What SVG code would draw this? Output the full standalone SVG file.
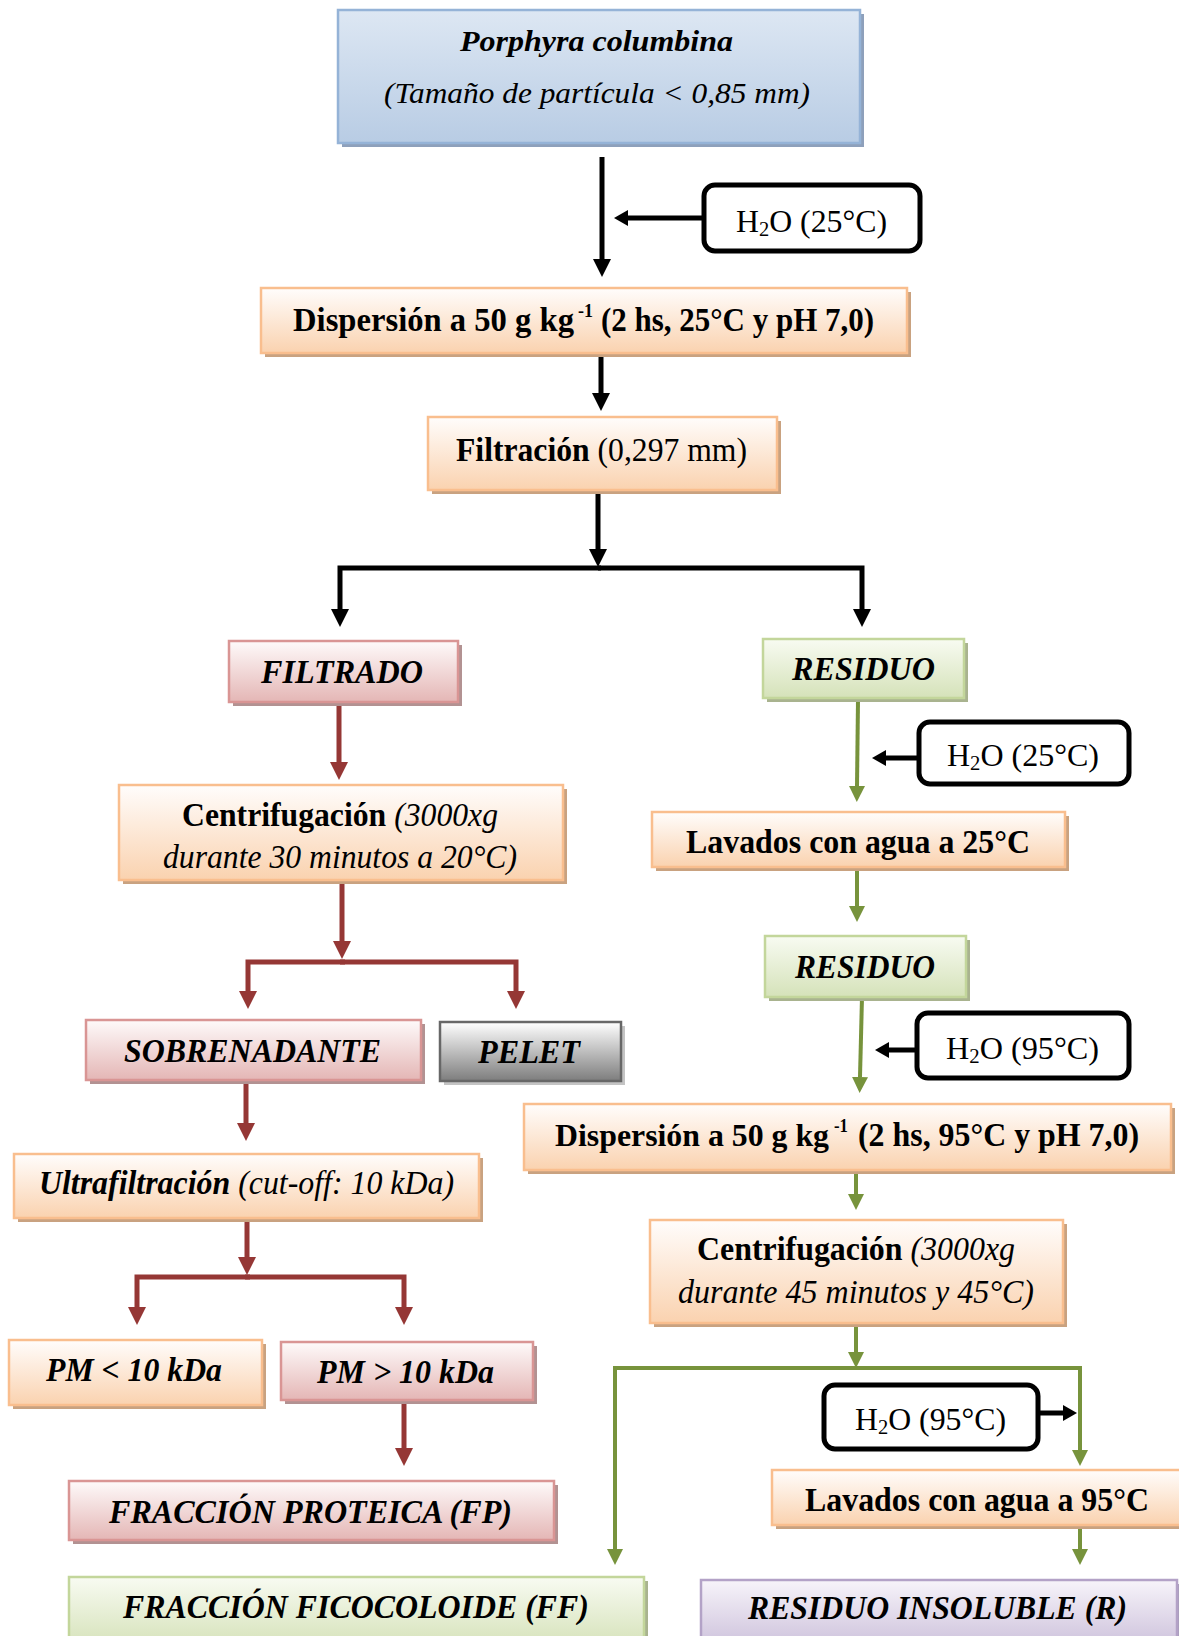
<svg xmlns="http://www.w3.org/2000/svg" width="1179" height="1636" viewBox="0 0 1179 1636">
<defs>
<linearGradient id="gBlue" x1="0" y1="0" x2="0" y2="1"><stop offset="0" stop-color="#dde7f3"/><stop offset="1" stop-color="#b8cce4"/></linearGradient>
<linearGradient id="gOr" x1="0" y1="0" x2="0" y2="1"><stop offset="0" stop-color="#fffdfc"/><stop offset="1" stop-color="#fad2af"/></linearGradient>
<linearGradient id="gPk" x1="0" y1="0" x2="0" y2="1"><stop offset="0" stop-color="#fefafa"/><stop offset="1" stop-color="#e4b6b5"/></linearGradient>
<linearGradient id="gGr" x1="0" y1="0" x2="0" y2="1"><stop offset="0" stop-color="#f8fbf2"/><stop offset="1" stop-color="#d5e2b9"/></linearGradient>
<linearGradient id="gGy" x1="0" y1="0" x2="0" y2="1"><stop offset="0" stop-color="#ffffff"/><stop offset="1" stop-color="#7d7d7d"/></linearGradient>
<linearGradient id="gPu" x1="0" y1="0" x2="0" y2="1"><stop offset="0" stop-color="#f7f4fa"/><stop offset="1" stop-color="#cbbfda"/></linearGradient>
<marker id="aK" viewBox="0 0 18 18" markerWidth="18" markerHeight="18" refX="0" refY="9" orient="auto" markerUnits="userSpaceOnUse"><path d="M0,0 L18,9 L0,18 z" fill="#000"/></marker>
<marker id="aKs" viewBox="0 0 14 16" markerWidth="14" markerHeight="16" refX="0" refY="8" orient="auto" markerUnits="userSpaceOnUse"><path d="M0,0 L14,8 L0,16 z" fill="#000"/></marker>
<marker id="aR" viewBox="0 0 18 18" markerWidth="18" markerHeight="18" refX="0" refY="9" orient="auto" markerUnits="userSpaceOnUse"><path d="M0,0 L18,9 L0,18 z" fill="#953735"/></marker>
<marker id="aG" viewBox="0 0 16 16" markerWidth="16" markerHeight="16" refX="0" refY="8" orient="auto" markerUnits="userSpaceOnUse"><path d="M0,0 L16,8 L0,16 z" fill="#77933c"/></marker>
</defs>
<style>
.t{font-family:"Liberation Serif","Times New Roman",serif;fill:#000;}
.b{font-weight:bold;}
.i{font-style:italic;}
.bi{font-weight:bold;font-style:italic;}
.f31{font-size:33px;}
.f30{font-size:31px;}
.f27{font-size:29px;}
.sup{font-size:19px;font-weight:bold;}
.shO{fill:#c9a280;} .shP{fill:#b29292;} .shG{fill:#a9b38f;} .shB{fill:#8ea0bb;} .shY{fill:#c4c4c4;} .shU{fill:#a99cbb;}
.bO{fill:url(#gOr);stroke:#f9be8e;stroke-width:2.5;}
.bP{fill:url(#gPk);stroke:#d99594;stroke-width:2.5;}
.bG{fill:url(#gGr);stroke:#c3d69b;stroke-width:2.5;}
.bB{fill:url(#gBlue);stroke:#95b3d7;stroke-width:2.5;}
.bY{fill:url(#gGy);stroke:#676767;stroke-width:2.5;}
.bU{fill:url(#gPu);stroke:#b3a2c7;stroke-width:2.5;}
.h{fill:#fff;stroke:#000;stroke-width:5;}
.ck{fill:none;stroke:#000;stroke-width:5;}
.cks{fill:none;stroke:#000;stroke-width:5;}
.cr{fill:none;stroke:#953735;stroke-width:5;}
.cg{fill:none;stroke:#77933c;stroke-width:4;}
</style>

<g id="connectors">
<path class="ck" d="M602,157 V259" marker-end="url(#aK)"/>
<path class="cks" d="M704,218 H628" marker-end="url(#aKs)"/>
<path class="ck" d="M601,353 V393" marker-end="url(#aK)"/>
<path class="ck" d="M598,490 V549" marker-end="url(#aK)"/>
<path class="ck" d="M601,568 H340 V609" marker-end="url(#aK)"/>
<path class="ck" d="M598,568 H862 V609" marker-end="url(#aK)"/>
<path class="cr" d="M339,702 V762" marker-end="url(#aR)"/>
<path class="cr" d="M342,880 V941" marker-end="url(#aR)"/>
<path class="cr" d="M345,962 H248 V991" marker-end="url(#aR)"/>
<path class="cr" d="M340,962 H516 V991" marker-end="url(#aR)"/>
<path class="cr" d="M246,1080 V1123" marker-end="url(#aR)"/>
<path class="cr" d="M247,1218 V1257" marker-end="url(#aR)"/>
<path class="cr" d="M250,1277 H137 V1307" marker-end="url(#aR)"/>
<path class="cr" d="M245,1277 H404 V1307" marker-end="url(#aR)"/>
<path class="cr" d="M404,1402 V1448" marker-end="url(#aR)"/>
<path class="cg" d="M858,700 L857,786" marker-end="url(#aG)"/>
<path class="cks" d="M919,758 H886" marker-end="url(#aKs)"/>
<path class="cg" d="M857,867 V906" marker-end="url(#aG)"/>
<path class="cg" d="M862,997 L860,1077" marker-end="url(#aG)"/>
<path class="cks" d="M917,1050 H889" marker-end="url(#aKs)"/>
<path class="cg" d="M856,1170 V1194" marker-end="url(#aG)"/>
<path class="cg" d="M856,1323 V1352" marker-end="url(#aG)"/>
<path class="cg" d="M858,1368 H615 V1549" marker-end="url(#aG)"/>
<path class="cg" d="M854,1368 H1080 V1450" marker-end="url(#aG)"/>
<path class="cks" d="M1038,1413 H1063" marker-end="url(#aKs)"/>
<path class="cg" d="M1080,1525 V1549" marker-end="url(#aG)"/>
</g>

<g id="n-porphyra">
<rect class="shB" x="342" y="14" width="522" height="133"/>
<rect class="bB" x="338" y="10" width="522" height="133"/>
<text class="t bi f27" x="460" y="51" textLength="273" lengthAdjust="spacingAndGlyphs">Porphyra columbina</text>
<text class="t i f27" x="384" y="103" textLength="426" lengthAdjust="spacingAndGlyphs">(Tamaño de partícula &lt; 0,85 mm)</text>
</g>

<g id="n-h2o-1">
<rect class="h" x="704" y="185" width="216" height="66" rx="11"/>
<text class="t f30" x="736" y="232" textLength="151" lengthAdjust="spacingAndGlyphs">H<tspan font-size="20" dy="4">2</tspan><tspan dy="-4">O (25°C)</tspan></text>
</g>

<g id="n-dispersion-1">
<rect class="shO" x="265" y="292" width="646" height="65"/>
<rect class="bO" x="261" y="288" width="646" height="65"/>
<text class="t b f31" x="293" y="331" textLength="281" lengthAdjust="spacingAndGlyphs">Dispersión a 50 g kg</text>
<text class="t sup" x="578" y="317" textLength="15" lengthAdjust="spacingAndGlyphs">-1</text>
<text class="t b f31" x="601" y="331" textLength="273" lengthAdjust="spacingAndGlyphs">(2 hs, 25°C y pH 7,0)</text>
</g>

<g id="n-filtracion">
<rect class="shO" x="432" y="421" width="349" height="73"/>
<rect class="bO" x="428" y="417" width="349" height="73"/>
<text class="t f31" x="456" y="461" textLength="291" lengthAdjust="spacingAndGlyphs"><tspan class="b">Filtración</tspan> (0,297 mm)</text>
</g>

<g id="n-filtrado">
<rect class="shP" x="233" y="645" width="229" height="61"/>
<rect class="bP" x="229" y="641" width="229" height="61"/>
<text class="t bi f31" x="261" y="683" textLength="162" lengthAdjust="spacingAndGlyphs">FILTRADO</text>
</g>

<g id="n-residuo-1">
<rect class="shG" x="767" y="643" width="201" height="59"/>
<rect class="bG" x="763" y="639" width="201" height="59"/>
<text class="t bi f31" x="792" y="680" textLength="143" lengthAdjust="spacingAndGlyphs">RESIDUO</text>
</g>

<g id="n-h2o-2">
<rect class="h" x="919" y="722" width="210" height="62" rx="11"/>
<text class="t f30" x="947" y="766" textLength="152" lengthAdjust="spacingAndGlyphs">H<tspan font-size="20" dy="4">2</tspan><tspan dy="-4">O (25°C)</tspan></text>
</g>

<g id="n-centrifugacion-1">
<rect class="shO" x="123" y="789" width="444" height="95"/>
<rect class="bO" x="119" y="785" width="444" height="95"/>
<text class="t f31" x="182" y="826" textLength="316" lengthAdjust="spacingAndGlyphs"><tspan class="b">Centrifugación</tspan><tspan class="i"> (3000xg</tspan></text>
<text class="t i f31" x="163" y="868" textLength="354" lengthAdjust="spacingAndGlyphs">durante 30 minutos a 20°C)</text>
</g>

<g id="n-lavados-25">
<rect class="shO" x="656" y="816" width="413" height="55"/>
<rect class="bO" x="652" y="812" width="413" height="55"/>
<text class="t b f31" x="686" y="853" textLength="344" lengthAdjust="spacingAndGlyphs">Lavados con agua a 25°C</text>
</g>

<g id="n-residuo-2">
<rect class="shG" x="769" y="940" width="201" height="61"/>
<rect class="bG" x="765" y="936" width="201" height="61"/>
<text class="t bi f31" x="795" y="978" textLength="140" lengthAdjust="spacingAndGlyphs">RESIDUO</text>
</g>

<g id="n-sobrenadante">
<rect class="shP" x="90" y="1024" width="335" height="60"/>
<rect class="bP" x="86" y="1020" width="335" height="60"/>
<text class="t bi f31" x="124" y="1062" textLength="257" lengthAdjust="spacingAndGlyphs">SOBRENADANTE</text>
</g>

<g id="n-pelet">
<rect class="shY" x="444" y="1026" width="181" height="59"/>
<rect class="bY" x="440" y="1022" width="181" height="59"/>
<text class="t bi f31" x="478" y="1063" textLength="102" lengthAdjust="spacingAndGlyphs">PELET</text>
</g>

<g id="n-h2o-3">
<rect class="h" x="917" y="1013" width="212" height="65" rx="11"/>
<text class="t f30" x="946" y="1059" textLength="153" lengthAdjust="spacingAndGlyphs">H<tspan font-size="20" dy="4">2</tspan><tspan dy="-4">O (95°C)</tspan></text>
</g>

<g id="n-dispersion-2">
<rect class="shO" x="528" y="1108" width="647" height="66"/>
<rect class="bO" x="524" y="1104" width="647" height="66"/>
<text class="t b" font-size="32" x="555" y="1146" textLength="274" lengthAdjust="spacingAndGlyphs">Dispersión a 50 g kg</text>
<text class="t sup" x="834" y="1132" textLength="14" lengthAdjust="spacingAndGlyphs">-1</text>
<text class="t b f31" x="858" y="1146" textLength="281" lengthAdjust="spacingAndGlyphs">(2 hs, 95°C y pH 7,0)</text>
</g>

<g id="n-ultrafiltracion">
<rect class="shO" x="18" y="1158" width="465" height="64"/>
<rect class="bO" x="14" y="1154" width="465" height="64"/>
<text class="t i f31" x="39" y="1194" textLength="415" lengthAdjust="spacingAndGlyphs"><tspan class="bi">Ultrafiltración</tspan> (cut-off: 10 kDa)</text>
</g>

<g id="n-centrifugacion-2">
<rect class="shO" x="654" y="1224" width="413" height="103"/>
<rect class="bO" x="650" y="1220" width="413" height="103"/>
<text class="t f31" x="697" y="1260" textLength="318" lengthAdjust="spacingAndGlyphs"><tspan class="b">Centrifugación</tspan><tspan class="i"> (3000xg</tspan></text>
<text class="t i f31" x="678" y="1303" textLength="356" lengthAdjust="spacingAndGlyphs">durante 45 minutos y 45°C)</text>
</g>

<g id="n-pm-menor">
<rect class="shO" x="13" y="1344" width="253" height="65"/>
<rect class="bO" x="9" y="1340" width="253" height="65"/>
<text class="t bi f31" x="46" y="1381" textLength="176" lengthAdjust="spacingAndGlyphs">PM &lt; 10 kDa</text>
</g>

<g id="n-pm-mayor">
<rect class="shP" x="285" y="1346" width="252" height="58"/>
<rect class="bP" x="281" y="1342" width="252" height="58"/>
<text class="t bi f31" x="317" y="1383" textLength="177" lengthAdjust="spacingAndGlyphs">PM &gt; 10 kDa</text>
</g>

<g id="n-h2o-4">
<rect class="h" x="824" y="1385" width="214" height="64" rx="11"/>
<text class="t f30" x="855" y="1430" textLength="151" lengthAdjust="spacingAndGlyphs">H<tspan font-size="20" dy="4">2</tspan><tspan dy="-4">O (95°C)</tspan></text>
</g>

<g id="n-lavados-95">
<rect class="shO" x="776" y="1474" width="420" height="55"/>
<rect class="bO" x="772" y="1470" width="420" height="55"/>
<text class="t b f31" x="805" y="1511" textLength="344" lengthAdjust="spacingAndGlyphs">Lavados con agua a 95°C</text>
</g>

<g id="n-fraccion-proteica">
<rect class="shP" x="73" y="1485" width="485" height="59"/>
<rect class="bP" x="69" y="1481" width="485" height="59"/>
<text class="t bi f31" x="109" y="1523" textLength="403" lengthAdjust="spacingAndGlyphs">FRACCIÓN PROTEICA (FP)</text>
</g>

<g id="n-fraccion-ficocoloide">
<rect class="shG" x="73" y="1581" width="575" height="70"/>
<rect class="bG" x="69" y="1577" width="575" height="70"/>
<text class="t bi f31" x="123" y="1618" textLength="466" lengthAdjust="spacingAndGlyphs">FRACCIÓN FICOCOLOIDE (FF)</text>
</g>

<g id="n-residuo-insoluble">
<rect class="shU" x="705" y="1584" width="476" height="70"/>
<rect class="bU" x="701" y="1580" width="476" height="70"/>
<text class="t bi f31" x="748" y="1619" textLength="379" lengthAdjust="spacingAndGlyphs">RESIDUO INSOLUBLE (R)</text>
</g>
</svg>
